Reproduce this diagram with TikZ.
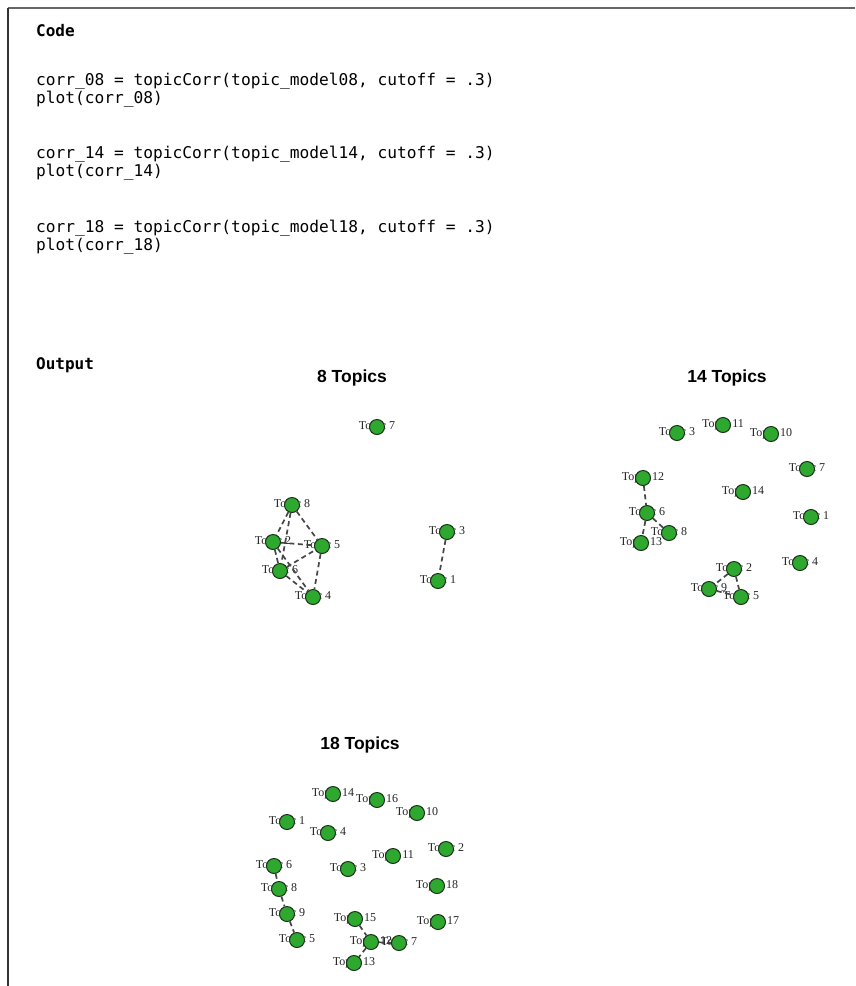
\documentclass[tikz,border=0pt]{standalone}
\usepackage{fontspec}
\setmainfont{Liberation Serif}
\setmonofont{DejaVu Sans Mono}
\newfontfamily\titlefont{Liberation Sans}
\pgfdeclarelayer{bg}
\pgfsetlayers{bg,main}
\definecolor{vgreen}{RGB}{46,168,46}
\definecolor{vline}{RGB}{25,50,25}
\definecolor{edgec}{RGB}{70,70,70}
\tikzset{
  vtx/.style={circle,fill=vgreen,draw=vline,line width=1pt,minimum size=15pt,inner sep=0pt},
  lbl/.style={inner sep=0pt,font=\fontsize{12}{12}\selectfont,text=black!85},
  corredge/.style={draw=edgec,line width=1.7pt,dash pattern=on 5pt off 3.5pt},
  codetxt/.style={anchor=base west,inner sep=0pt,font=\ttfamily\fontsize{16.2}{18}\selectfont},
  headtxt/.style={anchor=base west,inner sep=0pt,font=\ttfamily\bfseries\fontsize{16}{18}\selectfont},
  ttl/.style={inner sep=0pt,font=\titlefont\bfseries\fontsize{17.5}{20}\selectfont},
  frameline/.style={line width=1.5pt}
}
\newcommand{\topicv}[4]{%
  \node[vtx] (#1) at (#2,#3) {};
  \begin{pgfonlayer}{bg}\node[lbl] (#1l) at (#2,#3) {Topic #4};\end{pgfonlayer}%
}
\begin{document}
\begin{tikzpicture}[x=1pt,y=-1pt]
\useasboundingbox (0,0) rectangle (855,986);
\begin{pgfonlayer}{bg}\fill[white] (0,0) rectangle (855,986);\end{pgfonlayer}
% frame
\coordinate (ftr) at (855,8);
\coordinate (ftl) at (8,8);
\coordinate (fbl) at (8,986);
\draw[frameline,draw=black!60] (ftr) -- (ftl);
\draw[frameline,draw=black!80] (ftl) -- (fbl);
% code text
\node[headtxt] (hcode) at (36,36) {Code};
\node[codetxt] (c1) at (36,85) {corr\_08 = topicCorr(topic\_model08, cutoff = .3)};
\node[codetxt] (c2) at (36,103) {plot(corr\_08)};
\node[codetxt] (c3) at (36,158) {corr\_14 = topicCorr(topic\_model14, cutoff = .3)};
\node[codetxt] (c4) at (36,176) {plot(corr\_14)};
\node[codetxt] (c5) at (36,232) {corr\_18 = topicCorr(topic\_model18, cutoff = .3)};
\node[codetxt] (c6) at (36,250) {plot(corr\_18)};
\node[headtxt] (hout) at (36,369) {Output};
% titles
\node[ttl] (t8) at (352,378) {8 Topics};
\node[ttl] (t14) at (727,378) {14 Topics};
\node[ttl] (t18) at (360,745) {18 Topics};
% ---- 8 topics
\topicv{a7}{377}{427}{7}
\topicv{a8}{292}{505}{8}
\topicv{a2}{273}{542}{2}
\topicv{a5}{322}{546}{5}
\topicv{a6}{280}{571}{6}
\topicv{a4}{313}{597}{4}
\topicv{a3}{447}{532}{3}
\topicv{a1}{438}{581}{1}
\draw[corredge] (a8) -- (a2);
\draw[corredge] (a8) -- (a6);
\draw[corredge] (a8) -- (a5);
\draw[corredge] (a2) -- (a5);
\draw[corredge] (a2) -- (a6);
\draw[corredge] (a2) -- (a4);
\draw[corredge] (a6) -- (a5);
\draw[corredge] (a6) -- (a4);
\draw[corredge] (a5) -- (a4);
\draw[corredge] (a3) -- (a1);
% ---- 14 topics
\topicv{b3}{677}{433}{3}
\topicv{b11}{723}{425}{11}
\topicv{b10}{771}{434}{10}
\topicv{b7}{807}{469}{7}
\topicv{b12}{643}{478}{12}
\topicv{b14}{743}{492}{14}
\topicv{b6}{647}{513}{6}
\topicv{b1}{811}{517}{1}
\topicv{b8}{669}{533}{8}
\topicv{b13}{641}{543}{13}
\topicv{b4}{800}{563}{4}
\topicv{b2}{734}{569}{2}
\topicv{b9}{709}{589}{9}
\topicv{b5}{741}{597}{5}
\draw[corredge] (b12) -- (b6);
\draw[corredge] (b6) -- (b8);
\draw[corredge] (b6) -- (b13);
\draw[corredge] (b2) -- (b9);
\draw[corredge] (b2) -- (b5);
\draw[corredge] (b9) -- (b5);
% ---- 18 topics
\topicv{c14}{333}{794}{14}
\topicv{c16}{377}{800}{16}
\topicv{c10}{417}{813}{10}
\topicv{c1}{287}{822}{1}
\topicv{c4}{328}{833}{4}
\topicv{c2}{446}{849}{2}
\topicv{c11}{393}{856}{11}
\topicv{c6}{274}{866}{6}
\topicv{c3}{348}{869}{3}
\topicv{c18}{437}{886}{18}
\topicv{c8}{279}{889}{8}
\topicv{c9}{287}{914}{9}
\topicv{c15}{355}{919}{15}
\topicv{c17}{438}{922}{17}
\topicv{c5}{297}{940}{5}
\topicv{c12}{371}{942}{12}
\topicv{c7}{399}{943}{7}
\topicv{c13}{354}{963}{13}
\draw[corredge] (c6) -- (c8);
\draw[corredge] (c8) -- (c9);
\draw[corredge] (c9) -- (c5);
\draw[corredge] (c15) -- (c12);
\draw[corredge] (c12) -- (c7);
\draw[corredge] (c12) -- (c13);
\end{tikzpicture}
\end{document}
